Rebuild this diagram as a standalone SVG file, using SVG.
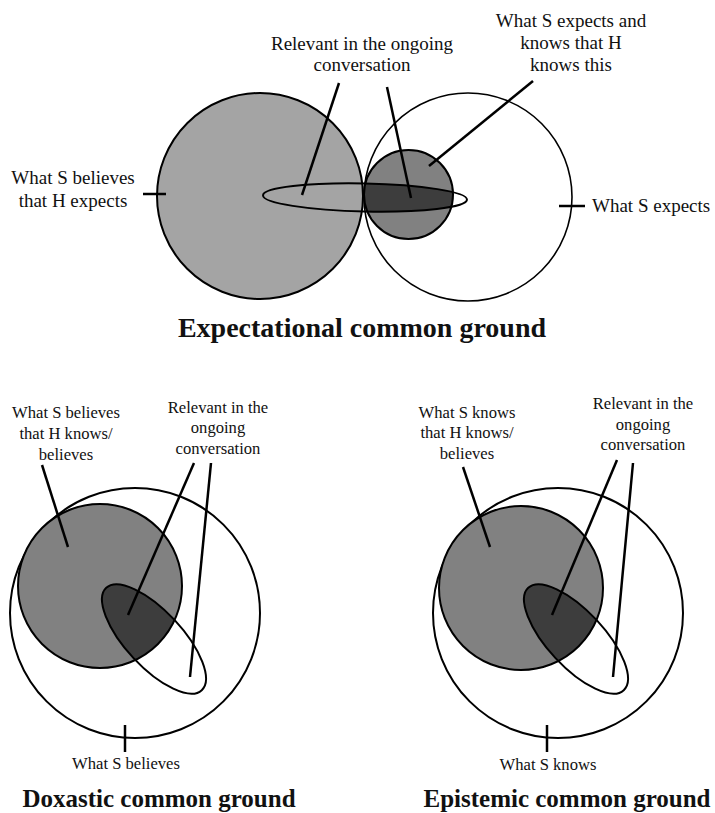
<svg xmlns="http://www.w3.org/2000/svg" width="715" height="813" viewBox="0 0 715 813">
<style>
text{font-family:"Liberation Serif","Times New Roman",serif;fill:#111;text-anchor:middle}
.lbl{font-size:19px}
.sm{font-size:16.6px}
.ttl{font-size:28px;font-weight:bold}
.ttl2{font-size:25px;font-weight:bold}
.o{fill:none;stroke:#000;stroke-width:2}
.lead{stroke:#000;stroke-width:2.5;fill:none}
.light{fill:#a4a4a4}
.mid{fill:#818181}
.dark{fill:#3d3d3d}
</style>
<defs>
<clipPath id="cSmall"><circle cx="408.5" cy="194.5" r="44.5"/></clipPath>
<clipPath id="cGrayL"><circle cx="100" cy="586" r="82"/></clipPath>
<clipPath id="cGrayR"><circle cx="521" cy="588" r="82"/></clipPath>
</defs>
<rect width="715" height="813" fill="#fff"/>

<!-- Top diagram -->
<g id="top-believes-H-expects">
<circle cx="260" cy="196" r="103" class="light"/>
<circle cx="260" cy="196" r="103" class="o"/>
</g>
<g id="top-S-expects">
<circle cx="468" cy="197" r="104" class="o" style="stroke-width:1.6"/>
</g>
<g id="top-S-expects-knows">
<circle cx="408.5" cy="194.5" r="44.5" class="mid"/>
<g clip-path="url(#cSmall)">
<ellipse cx="365" cy="197.5" rx="102" ry="14" transform="rotate(1.2 365 197.5)" class="dark"/>
</g>
<circle cx="408.5" cy="194.5" r="44.5" class="o"/>
</g>
<g id="top-relevant">
<ellipse cx="365" cy="197.5" rx="102" ry="14" transform="rotate(1.2 365 197.5)" class="o"/>
</g>

<!-- Bottom left diagram -->
<g id="dox-S-believes">
<circle cx="135" cy="613" r="125" class="o"/>
</g>
<g id="dox-H-knows">
<circle cx="100" cy="586" r="82" class="mid"/>
<g clip-path="url(#cGrayL)">
<ellipse cx="154" cy="639" rx="70" ry="28" transform="rotate(47 154 639)" class="dark"/>
</g>
<circle cx="100" cy="586" r="82" class="o"/>
</g>
<g id="dox-relevant">
<ellipse cx="154" cy="639" rx="70" ry="28" transform="rotate(47 154 639)" class="o"/>
</g>

<!-- Bottom right diagram -->
<g id="epi-S-knows">
<circle cx="558" cy="613" r="125" class="o"/>
</g>
<g id="epi-H-knows">
<circle cx="521" cy="588" r="82" class="mid"/>
<g clip-path="url(#cGrayR)">
<ellipse cx="576" cy="639" rx="70" ry="28" transform="rotate(47 576 639)" class="dark"/>
</g>
<circle cx="521" cy="588" r="82" class="o"/>
</g>
<g id="epi-relevant">
<ellipse cx="576" cy="639" rx="70" ry="28" transform="rotate(47 576 639)" class="o"/>
</g>

<!-- Connectors (leader lines) -->
<g id="connectors" class="lead">
<line x1="339" y1="83" x2="302" y2="195"/>
<line x1="387" y1="87" x2="411" y2="198"/>
<line x1="533" y1="81" x2="429" y2="166"/>
<line x1="143" y1="194" x2="166" y2="194"/>
<line x1="559" y1="206" x2="585" y2="206"/>
<line x1="42" y1="465" x2="68" y2="547"/>
<line x1="194" y1="463" x2="128" y2="615"/>
<line x1="211" y1="463" x2="190" y2="677"/>
<line x1="125" y1="725" x2="125" y2="752"/>
<line x1="463" y1="467" x2="490" y2="547"/>
<line x1="617" y1="460" x2="552" y2="615"/>
<line x1="633" y1="463" x2="613" y2="677"/>
<line x1="547" y1="725" x2="547" y2="752"/>
</g>

<!-- Labels -->
<g id="labels">
<text class="lbl" x="362" y="50">Relevant in the ongoing</text>
<text class="lbl" x="362" y="71">conversation</text>
<text class="lbl" x="571" y="27">What S expects and</text>
<text class="lbl" x="571" y="49">knows that H</text>
<text class="lbl" x="571" y="71">knows this</text>
<text class="lbl" x="73" y="184">What S believes</text>
<text class="lbl" x="73" y="207">that H expects</text>
<text class="lbl" x="592" y="212" style="text-anchor:start">What S expects</text>
<text class="ttl" x="362" y="337">Expectational common ground</text>

<text class="sm" x="66" y="418">What S believes</text>
<text class="sm" x="66" y="439">that H knows/</text>
<text class="sm" x="66" y="460">believes</text>
<text class="sm" x="218" y="413">Relevant in the</text>
<text class="sm" x="218" y="433">ongoing</text>
<text class="sm" x="218" y="454">conversation</text>
<text class="sm" x="126" y="769">What S believes</text>
<text class="ttl2" x="159" y="807">Doxastic common ground</text>

<text class="sm" x="467" y="418">What S knows</text>
<text class="sm" x="467" y="438">that H knows/</text>
<text class="sm" x="467" y="459">believes</text>
<text class="sm" x="643" y="409">Relevant in the</text>
<text class="sm" x="643" y="430">ongoing</text>
<text class="sm" x="643" y="450">conversation</text>
<text class="sm" x="548" y="770">What S knows</text>
<text class="ttl2" x="567" y="807">Epistemic common ground</text>
</g>
</svg>
